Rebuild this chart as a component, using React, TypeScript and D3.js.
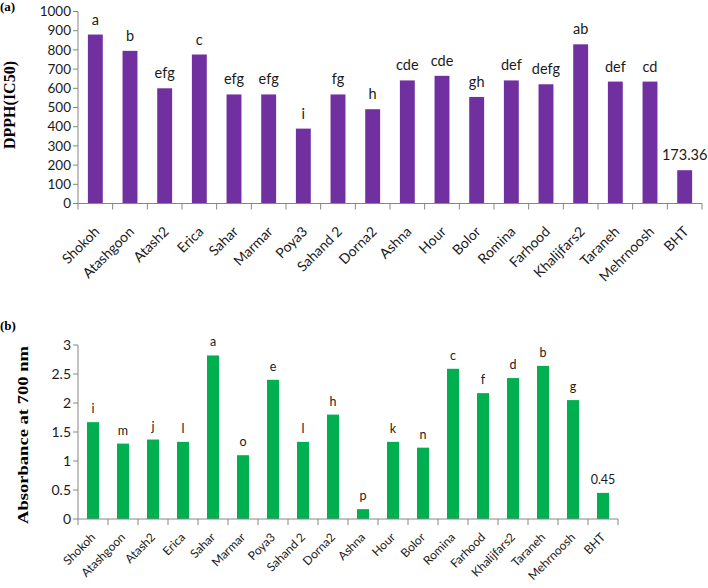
import React from "react";
import * as d3 from "d3";

const categories = ["Shokoh","Atashgoon","Atash2","Erica","Sahar","Marmar","Poya3","Sahand 2","Dorna2","Ashna","Hour","Bolor","Romina","Farhood","Khalijfars2","Taraneh","Mehrnoosh","BHT"];
const dpphValues = [880,795,600,776,568,568,390,568,491,641,665,555,641,621,829,635,635,173.36];
const dpphLabels = ["a","b","efg","c","efg","efg","i","fg","h","cde","cde","gh","def","defg","ab","def","cd","173.36"];
const absValues = [1.67,1.30,1.37,1.33,2.82,1.10,2.40,1.33,1.80,0.17,1.33,1.23,2.59,2.17,2.43,2.64,2.05,0.45];
const absLabels = ["i","m","j","l","a","o","e","l","h","p","k","n","c","f","d","b","g","0.45"];
const dpphTicks = [0,100,200,300,400,500,600,700,800,900,1000];
const absTicks = [0,0.5,1,1.5,2,2.5,3];

const FONT = "Lato, 'Open Sans', sans-serif";
const SERIF = "'Liberation Serif', 'DejaVu Serif', serif";
const AXIS = "#868686";
const TXT = "#1a1a1a";

type PanelProps = {
  values: number[]; labels: string[]; ticks: number[]; max: number;
  x0: number; x1: number; y0: number; yTop: number; color: string;
  barFrac: number; tickFont: number; catFont: number; lblFont: number;
  lblOffset: number; catDx: number; catDy: number; fmt: (v: number) => string;
};

function Panel(p: PanelProps) {
  const x = d3.scaleBand<string>().domain(categories).range([p.x0, p.x1]).paddingInner(0).paddingOuter(0);
  const y = d3.scaleLinear().domain([0, p.max]).range([p.y0, p.yTop]);
  const bw = x.bandwidth() * p.barFrac;
  const bounds = categories.map((c) => x(c) as number).concat([p.x1]);
  return (
    <g>
      {categories.map((c, i) => {
        const cx = (x(c) as number) + x.bandwidth() / 2;
        return (
          <g key={c}>
            <rect x={cx - bw / 2} y={y(p.values[i])} width={bw} height={p.y0 - y(p.values[i])} fill={p.color} />
            <text x={cx} y={y(p.values[i]) - p.lblOffset} textAnchor="middle" fontFamily={FONT} fontSize={p.lblFont} fill={TXT}>{p.labels[i]}</text>
            <text transform={`translate(${cx + p.catDx},${p.y0 + p.catDy}) rotate(-45)`} textAnchor="end" fontFamily={FONT} fontSize={p.catFont} fill={TXT}>{c}</text>
          </g>
        );
      })}
      <line x1={p.x0} x2={p.x0} y1={p.y0} y2={y(p.max)} stroke={AXIS} strokeWidth={1} />
      {p.ticks.map((t) => (
        <g key={t}>
          <line x1={p.x0 - 5} x2={p.x0} y1={y(t)} y2={y(t)} stroke={AXIS} />
          <text x={p.x0 - 7} y={y(t)} dy="0.35em" textAnchor="end" fontFamily={FONT} fontSize={p.tickFont} fill={TXT}>{p.fmt(t)}</text>
        </g>
      ))}
      <line x1={p.x0} x2={p.x1} y1={p.y0} y2={p.y0} stroke={AXIS} strokeWidth={1} />
      {bounds.map((b, i) => (
        <line key={i} x1={b} x2={b} y1={p.y0} y2={p.y0 + 6} stroke={AXIS} />
      ))}
    </g>
  );
}

export default function App() {
  return (
    <svg width={708} height={588} style={{ position: "absolute", left: 0, top: 0, background: "#fff" }}>
      <rect x={0} y={0} width={708} height={588} fill="#fff" />
      <text x={0} y={11} fontFamily={SERIF} fontWeight="bold" fontSize={13} fill="#000">(a)</text>
      <text transform="translate(15,105) rotate(-90)" textAnchor="middle" fontFamily={SERIF} fontWeight="bold" fontSize={16} fill="#000">DPPH(IC50)</text>
      <Panel values={dpphValues} labels={dpphLabels} ticks={dpphTicks} max={1000}
        x0={78} x1={702} y0={203.5} yTop={11.5} color="#7030A0" barFrac={0.43}
        tickFont={13.5} catFont={14} lblFont={14.5} lblOffset={10} catDx={5} catDy={29}
        fmt={(v) => String(v)} />
      <text x={0} y={330} fontFamily={SERIF} fontWeight="bold" fontSize={13} fill="#000">(b)</text>
      <text transform="translate(28,435) rotate(-90)" textAnchor="middle" fontFamily={SERIF} fontWeight="bold" fontSize={15} textLength={178} lengthAdjust="spacingAndGlyphs" fill="#000">Absorbance at 700 nm</text>
      <Panel values={absValues} labels={absLabels} ticks={absTicks} max={3}
        x0={78} x1={618} y0={519} yTop={345} color="#00B050" barFrac={0.4}
        tickFont={14} catFont={12} lblFont={12.5} lblOffset={9} catDx={3} catDy={19}
        fmt={(v) => String(v)} />
    </svg>
  );
}
